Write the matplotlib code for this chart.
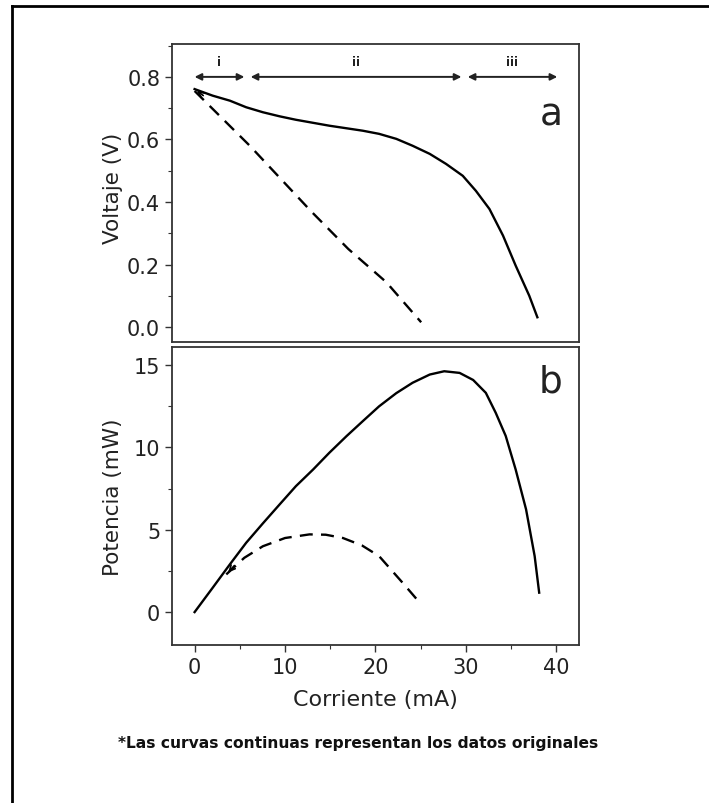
import matplotlib
matplotlib.use("Agg")
import matplotlib.pyplot as plt
from matplotlib.lines import Line2D
from matplotlib.ticker import MultipleLocator

plt.rcParams['font.family'] = ['DejaVu Sans']

# Panel a: voltage vs current
i_solid_v = [0, 2.0, 3.9, 5.7, 7.55, 9.4, 11.2, 14.9, 18.6, 20.4, 22.3, 24.1, 26.0, 27.8,
             29.65, 31.1, 32.6, 34.1, 35.5, 37.0, 37.9]
v_solid = [0.761, 0.740, 0.724, 0.703, 0.687, 0.674, 0.663, 0.644, 0.628, 0.618, 0.602, 0.580,
           0.554, 0.522, 0.484, 0.436, 0.378, 0.293, 0.197, 0.101, 0.032]
i_dash_v = [0, 6.1, 12.9, 17.0, 21.2, 25.05]
v_dash = [0.755, 0.58, 0.37, 0.25, 0.144, 0.016]

# Panel b: power vs current
i_solid_p = [0, 2.0, 3.9, 5.7, 7.55, 9.4, 11.2, 13.1, 14.9, 16.8, 18.6, 20.4, 22.3, 24.1, 26.0,
             27.6, 29.3, 30.8, 32.2, 33.3, 34.4, 35.5, 36.65, 37.6, 38.1]
p_solid = [0, 1.48, 2.9, 4.21, 5.39, 6.54, 7.65, 8.66, 9.68, 10.69, 11.6, 12.5, 13.3, 13.93, 14.43,
           14.63, 14.53, 14.1, 13.32, 12.1, 10.7, 8.66, 6.24, 3.4, 1.18]
i_dash_p = [3.5, 5.5, 7.55, 10.0, 12.7, 14.5, 16.4, 18.5, 20.4, 23.0, 25.05]
p_dash = [2.29, 3.3, 4.0, 4.5, 4.72, 4.7, 4.5, 4.05, 3.4, 1.78, 0.47]

# regions i, ii, iii
regions = ['i', 'ii', 'iii']
region_start = [0, 6.2, 30.2]
region_end = [5.5, 29.5, 40.1]

fig = plt.figure(figsize=(7.09, 8.04), dpi=100)
ax1 = fig.add_axes([0.2426, 0.5734, 0.574, 0.3706])
ax2 = fig.add_axes([0.2426, 0.1965, 0.574, 0.3706])

spine_col = '#333333'
txt_col = '#222222'
for ax in (ax1, ax2):
    for s in ax.spines.values():
        s.set_linewidth(1.3)
        s.set_color(spine_col)
    ax.tick_params(which='both', direction='out', color=spine_col, labelsize=15, labelcolor=txt_col)
    ax.tick_params(which='major', length=5, width=1)
    ax.tick_params(which='minor', length=3, width=0.8)
    ax.set_xlim(-2.5, 42.5)

dash = (0, (5.5, 3.5))
ax1.plot(i_solid_v, v_solid, color='black', lw=1.7)
ax1.plot(i_dash_v, v_dash, color='black', lw=1.7, ls=dash)
ax1.annotate('', xy=(0, 0.761), xytext=(1.2, 0.735),
             arrowprops=dict(arrowstyle='->', color='black', lw=1.2))
ax1.set_ylim(-0.047, 0.905)
ax1.set_yticks([0.0, 0.2, 0.4, 0.6, 0.8])
ax1.set_yticklabels(['0.0', '0.2', '0.4', '0.6', '0.8'])
ax1.yaxis.set_minor_locator(MultipleLocator(0.1))
ax1.tick_params(axis='x', which='both', bottom=False, labelbottom=False)
ax1.set_ylabel('Voltaje (V)', fontsize=15.5, color=txt_col)
ax1.yaxis.set_label_coords(-0.12, 0.52)
ax1.text(39.4, 0.68, 'a', fontsize=27, ha='center', va='center', color=txt_col)

for name, a, b in zip(regions, region_start, region_end):
    ax1.annotate('', xy=(a, 0.8), xytext=(b, 0.8),
                 arrowprops=dict(arrowstyle='<|-|>', color=txt_col, lw=1.4,
                                 mutation_scale=10, shrinkA=0, shrinkB=0))
    ax1.text((a + b) / 2, 0.848, name, fontsize=8.5, fontweight='bold',
             ha='center', va='center', color=txt_col)

ax2.plot(i_solid_p, p_solid, color='black', lw=1.7)
ax2.plot(i_dash_p, p_dash, color='black', lw=1.7, ls=dash)
ax2.annotate('', xy=(3.5, 2.29), xytext=(4.6, 2.95),
             arrowprops=dict(arrowstyle='->', color='black', lw=1.2))
ax2.set_ylim(-2.0, 16.1)
ax2.yaxis.set_major_locator(MultipleLocator(5))
ax2.yaxis.set_minor_locator(MultipleLocator(2.5))
ax2.xaxis.set_major_locator(MultipleLocator(10))
ax2.xaxis.set_minor_locator(MultipleLocator(5))
ax2.set_ylabel('Potencia (mW)', fontsize=15.5, color=txt_col)
ax2.yaxis.set_label_coords(-0.12, 0.5)
ax2.set_xlabel('Corriente (mA)', fontsize=16, color=txt_col)
ax2.xaxis.set_label_coords(0.5, -0.181)
ax2.xaxis.label.set_va('center')
ax2.text(39.4, 14.0, 'b', fontsize=27, ha='center', va='center', color=txt_col)

fig.text(0.505, 1 - 744 / 804, '*Las curvas continuas representan los datos originales',
         fontsize=11.2, fontweight='bold', ha='center', va='center', color='#111111')

# outer frame (top and left only)
fig.add_artist(Line2D([11.5 / 709, 1], [1 - 6.5 / 804, 1 - 6.5 / 804],
                      transform=fig.transFigure, color='black', lw=2))
fig.add_artist(Line2D([11.5 / 709, 11.5 / 709], [0, 1 - 6.5 / 804],
                      transform=fig.transFigure, color='black', lw=2))

fig.savefig('out.png', dpi=100)
